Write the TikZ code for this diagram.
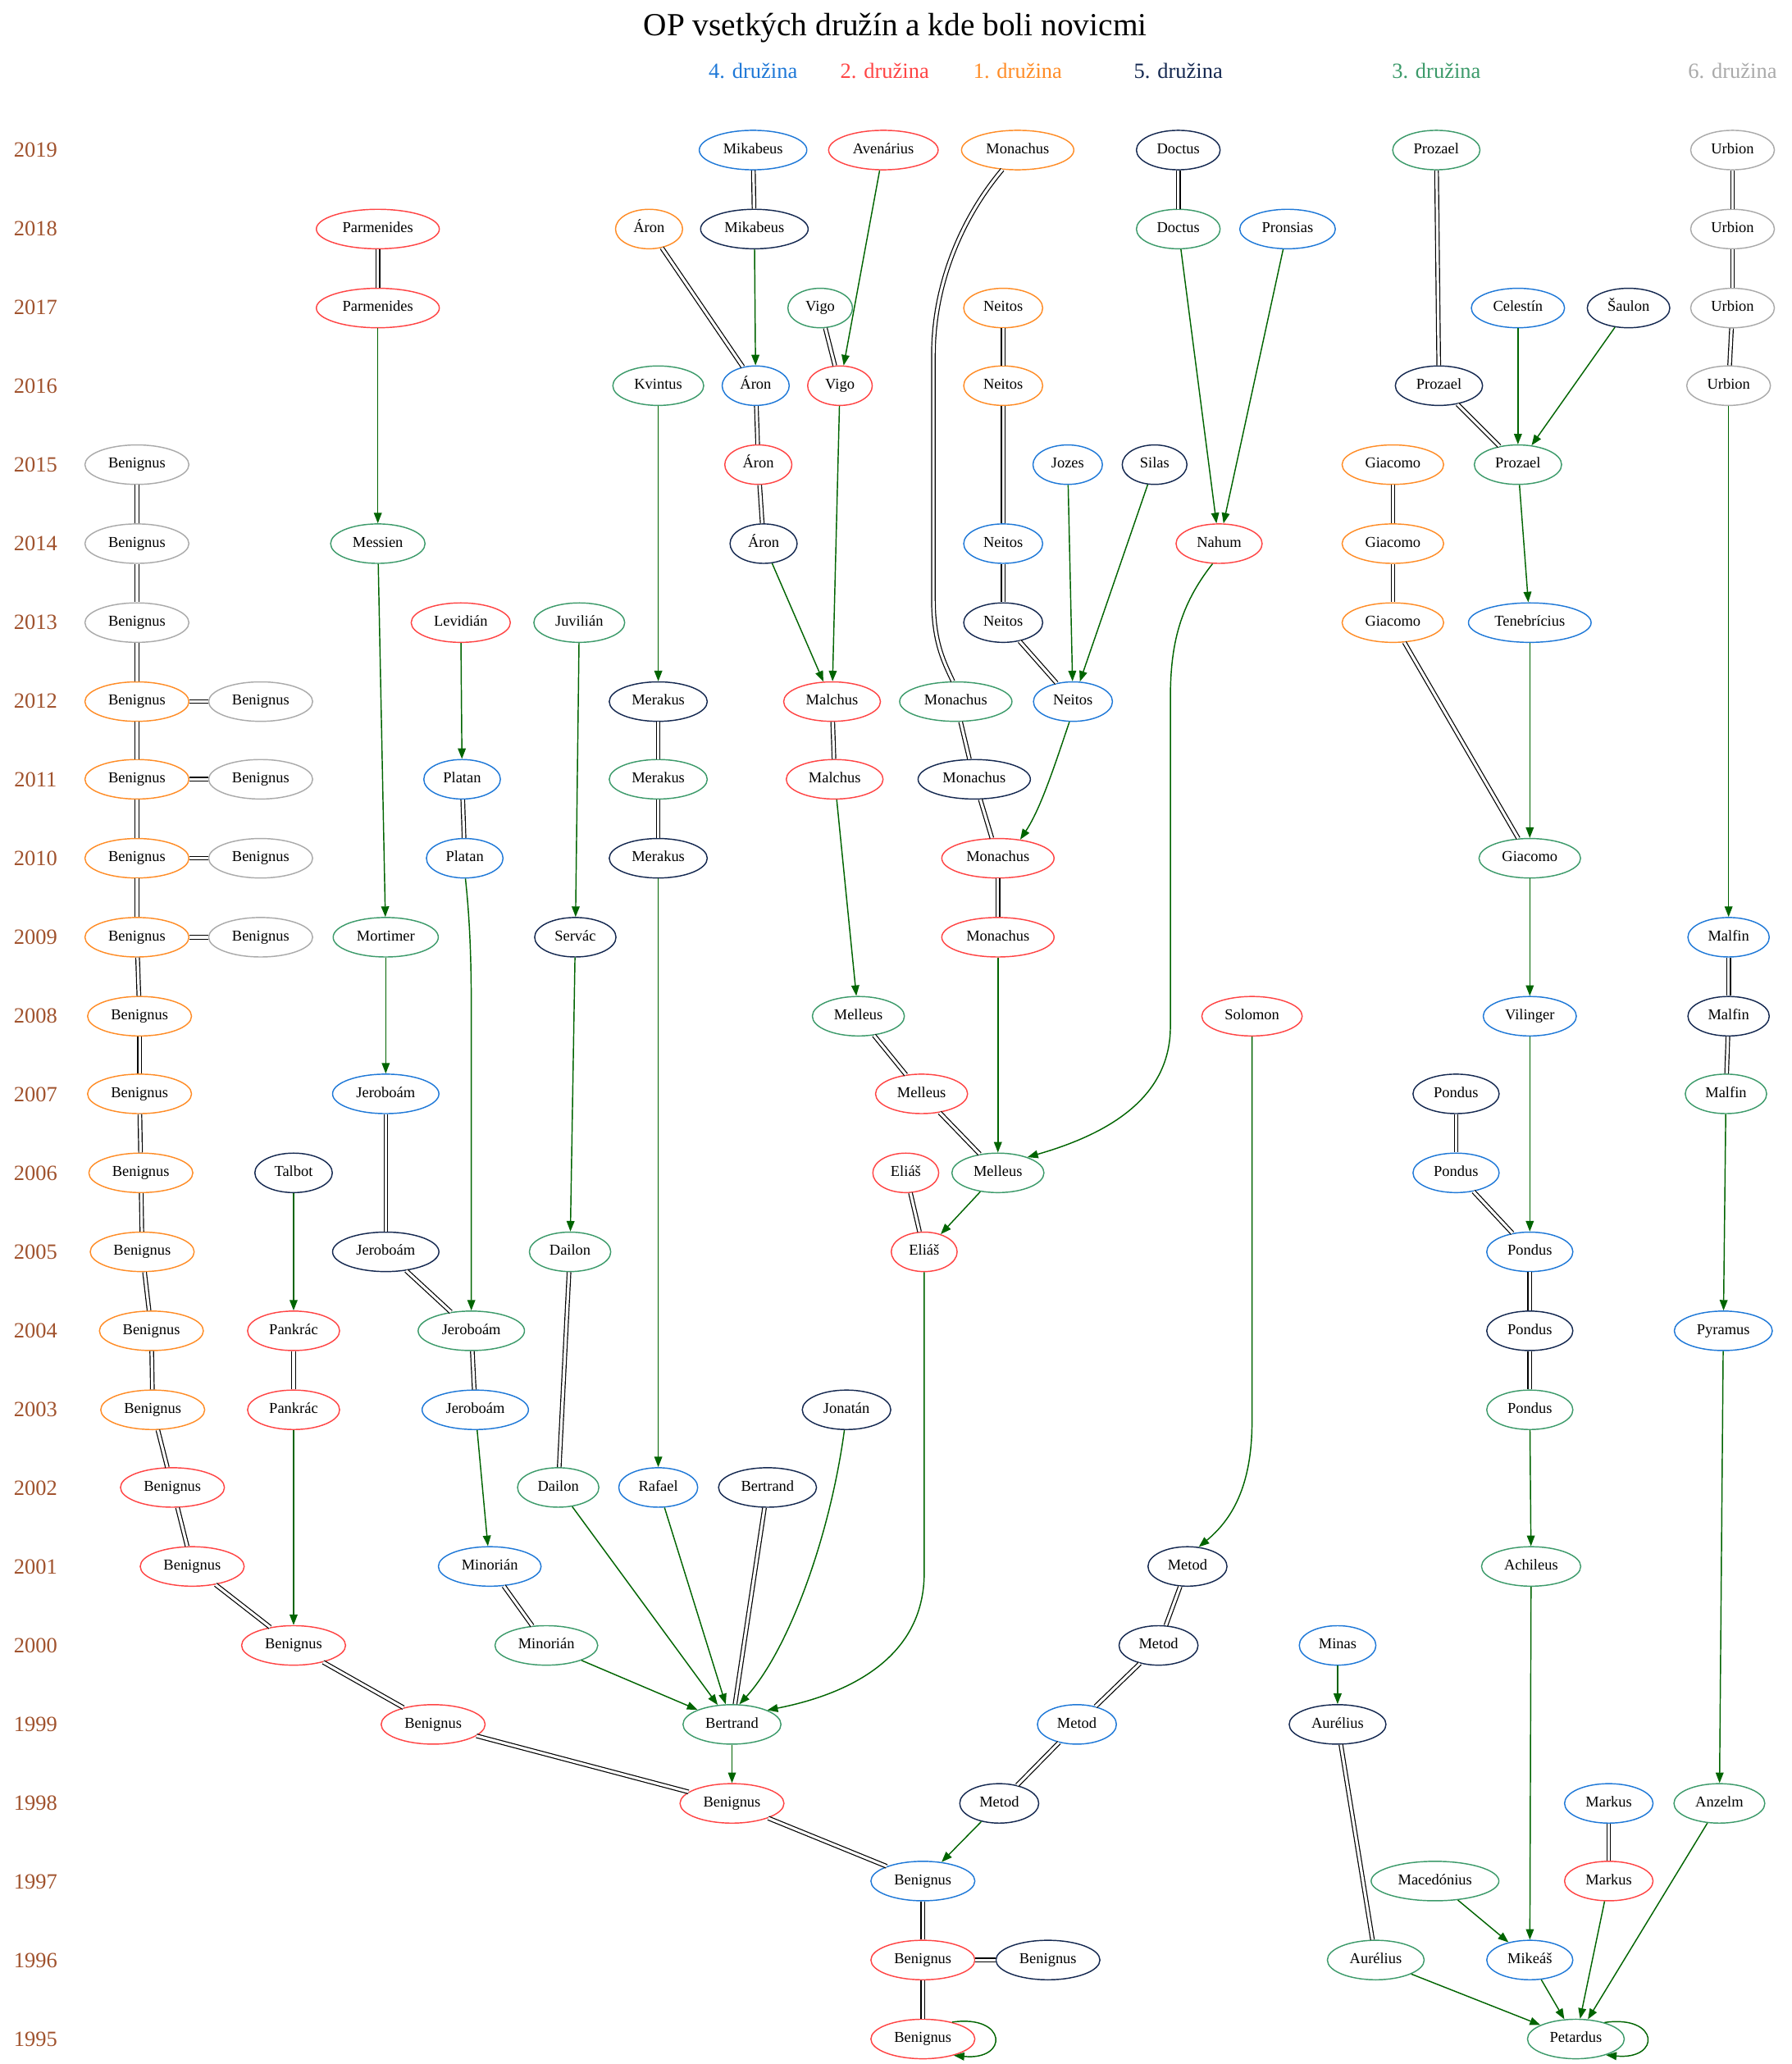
\documentclass[tikz,border=0pt]{standalone}
\usepackage{fontspec}
\setmainfont{Liberation Serif}
\usetikzlibrary{shapes.geometric, arrows.meta}

% colours of the six groups
\definecolor{cone}{RGB}{255,140,38}
\definecolor{ctwo}{RGB}{255,68,68}
\definecolor{cthree}{RGB}{60,154,106}
\definecolor{cfour}{RGB}{30,120,215}
\definecolor{cfive}{RGB}{20,40,80}
\definecolor{csix}{RGB}{170,170,170}
\definecolor{novgreen}{RGB}{0,100,0}
\definecolor{yearcol}{RGB}{160,82,45}

\tikzset{
  person/.style={ellipse, draw, line width=0.9pt,
    font=\fontsize{11.5}{13}\selectfont, text height=8pt, text depth=2.6pt,
    inner xsep=6.2pt, inner ysep=5.3pt},
  gone/.style={person, draw=cone},
  gtwo/.style={person, draw=ctwo},
  gthree/.style={person, draw=cthree},
  gfour/.style={person, draw=cfour},
  gfive/.style={person, draw=cfive},
  gsix/.style={person, draw=csix},
  yearlabel/.style={text=yearcol, font=\fontsize{16.5}{18}\selectfont},
  grouplabel/.style={font=\fontsize{16.5}{18}\selectfont},
  same/.style={draw=black, line width=0.75pt, double=white, double distance=2pt},
  novice/.style={draw=novgreen, line width=0.9pt, -{Triangle[length=8pt,width=6pt]}},
}

\begin{document}
\begin{tikzpicture}[x=1pt, y=-1pt]
\useasboundingbox (0,0) rectangle (1361,1568);

% title and group headers
\node[font=\fontsize{24.5}{28}\selectfont] (title) at (680,21) {OP vsetkých družín a kde boli novicmi};
\node[grouplabel, text=cfour]  (h4) at (572,54)  {4. družina};
\node[grouplabel, text=ctwo]   (h2) at (672,54)  {2. družina};
\node[grouplabel, text=cone]   (h1) at (773,54)  {1. družina};
\node[grouplabel, text=cfive]  (h5) at (895,54)  {5. družina};
\node[grouplabel, text=cthree] (h3) at (1091,54) {3. družina};
\node[grouplabel, text=csix]   (h6) at (1316,54) {6. družina};

% year axis
\foreach \yr [count=\i from 0] in {2019,2018,...,1995}
  \node[yearlabel] (yr\yr) at (27,114+59.79*\i) {\yr};

% 2019
\node[gfour]  (mik19) at (572,114) {Mikabeus};
\node[gtwo]   (ave19) at (671,114) {Avenárius};
\node[gone]   (mon19) at (773,114) {Monachus};
\node[gfive]  (doc19) at (895,114) {Doctus};
\node[gthree] (pro19) at (1091,114) {Prozael};
\node[gsix]   (urb19) at (1316,114) {Urbion};
% 2018
\node[gtwo]   (par18) at (287,174) {Parmenides};
\node[gone]   (aro18) at (493,174) {Áron};
\node[gfive]  (mik18) at (573,174) {Mikabeus};
\node[gthree] (doc18) at (895,174) {Doctus};
\node[gfour]  (prn18) at (978,174) {Pronsias};
\node[gsix]   (urb18) at (1316,174) {Urbion};
% 2017
\node[gtwo]   (par17) at (287,234) {Parmenides};
\node[gthree] (vig17) at (623,234) {Vigo};
\node[gone]   (nei17) at (762,234) {Neitos};
\node[gfour]  (cel17) at (1153,234) {Celestín};
\node[gfive]  (sau17) at (1237,234) {Šaulon};
\node[gsix]   (urb17) at (1316,234) {Urbion};
% 2016
\node[gthree] (kvi16) at (500,293) {Kvintus};
\node[gfour]  (aro16) at (574,293) {Áron};
\node[gtwo]   (vig16) at (638,293) {Vigo};
\node[gone]   (nei16) at (762,293) {Neitos};
\node[gfive]  (pro16) at (1093,293) {Prozael};
\node[gsix]   (urb16) at (1313,293) {Urbion};
% 2015
\node[gsix]   (ben15) at (104,353) {Benignus};
\node[gtwo]   (aro15) at (576,353) {Áron};
\node[gfour]  (joz15) at (811,353) {Jozes};
\node[gfive]  (sil15) at (877,353) {Silas};
\node[gone]   (gia15) at (1058,353) {Giacomo};
\node[gthree] (pro15) at (1153,353) {Prozael};
% 2014
\node[gsix]   (ben14) at (104,413) {Benignus};
\node[gthree] (mes14) at (287,413) {Messien};
\node[gfive]  (aro14) at (580,413) {Áron};
\node[gfour]  (nei14) at (762,413) {Neitos};
\node[gtwo]   (nah14) at (926,413) {Nahum};
\node[gone]   (gia14) at (1058,413) {Giacomo};
% 2013
\node[gsix]   (ben13) at (104,473) {Benignus};
\node[gtwo]   (lev13) at (350,473) {Levidián};
\node[gthree] (juv13) at (440,473) {Juvilián};
\node[gfive]  (nei13) at (762,473) {Neitos};
\node[gone]   (gia13) at (1058,473) {Giacomo};
\node[gfour]  (ten13) at (1162,473) {Tenebrícius};
% 2012
\node[gone]   (ben12) at (104,533) {Benignus};
\node[gsix]   (beg12) at (198,533) {Benignus};
\node[gfive]  (mer12) at (500,533) {Merakus};
\node[gtwo]   (mal12) at (632,533) {Malchus};
\node[gthree] (mon12) at (726,533) {Monachus};
\node[gfour]  (nei12) at (815,533) {Neitos};
% 2011
\node[gone]   (ben11) at (104,592) {Benignus};
\node[gsix]   (beg11) at (198,592) {Benignus};
\node[gfour]  (pla11) at (351,592) {Platan};
\node[gthree] (mer11) at (500,592) {Merakus};
\node[gtwo]   (mal11) at (634,592) {Malchus};
\node[gfive]  (mon11) at (740,592) {Monachus};
% 2010
\node[gone]   (ben10) at (104,652) {Benignus};
\node[gsix]   (beg10) at (198,652) {Benignus};
\node[gfour]  (pla10) at (353,652) {Platan};
\node[gfive]  (mer10) at (500,652) {Merakus};
\node[gtwo]   (mon10) at (758,652) {Monachus};
\node[gthree] (gia10) at (1162,652) {Giacomo};
% 2009
\node[gone]   (ben09) at (104,712) {Benignus};
\node[gsix]   (beg09) at (198,712) {Benignus};
\node[gthree] (mor09) at (293,712) {Mortimer};
\node[gfive]  (ser09) at (437,712) {Servác};
\node[gtwo]   (mon09) at (758,712) {Monachus};
\node[gfour]  (mlf09) at (1313,712) {Malfin};
% 2008
\node[gone]   (ben08) at (106,772) {Benignus};
\node[gthree] (mel08) at (652,772) {Melleus};
\node[gtwo]   (sol08) at (951,772) {Solomon};
\node[gfour]  (vil08) at (1162,772) {Vilinger};
\node[gfive]  (mlf08) at (1313,772) {Malfin};
% 2007
\node[gone]   (ben07) at (106,831) {Benignus};
\node[gfour]  (jer07) at (293,831) {Jeroboám};
\node[gtwo]   (mel07) at (700,831) {Melleus};
\node[gfive]  (pon07) at (1106,831) {Pondus};
\node[gthree] (mlf07) at (1311,831) {Malfin};
% 2006
\node[gone]   (ben06) at (107,891) {Benignus};
\node[gfive]  (tal06) at (223,891) {Talbot};
\node[gtwo]   (eli06) at (688,891) {Eliáš};
\node[gthree] (mel06) at (758,891) {Melleus};
\node[gfour]  (pon06) at (1106,891) {Pondus};
% 2005
\node[gone]   (ben05) at (108,951) {Benignus};
\node[gfive]  (jer05) at (293,951) {Jeroboám};
\node[gthree] (dai05) at (433,951) {Dailon};
\node[gtwo]   (eli05) at (702,951) {Eliáš};
\node[gfour]  (pon05) at (1162,951) {Pondus};
% 2004
\node[gone]   (ben04) at (115,1011) {Benignus};
\node[gtwo]   (pan04) at (223,1011) {Pankrác};
\node[gthree] (jer04) at (358,1011) {Jeroboám};
\node[gfive]  (pon04) at (1162,1011) {Pondus};
\node[gfour]  (pyr04) at (1309,1011) {Pyramus};
% 2003
\node[gone]   (ben03) at (116,1071) {Benignus};
\node[gtwo]   (pan03) at (223,1071) {Pankrác};
\node[gfour]  (jer03) at (361,1071) {Jeroboám};
\node[gfive]  (jon03) at (643,1071) {Jonatán};
\node[gthree] (pon03) at (1162,1071) {Pondus};
% 2002
\node[gtwo]   (ben02) at (131,1130) {Benignus};
\node[gthree] (dai02) at (424,1130) {Dailon};
\node[gfour]  (raf02) at (500,1130) {Rafael};
\node[gfive]  (ber02) at (583,1130) {Bertrand};
% 2001
\node[gtwo]   (ben01) at (146,1190) {Benignus};
\node[gfour]  (min01) at (372,1190) {Minorián};
\node[gfive]  (met01) at (902,1190) {Metod};
\node[gthree] (ach01) at (1163,1190) {Achileus};
% 2000
\node[gtwo]   (ben00) at (223,1250) {Benignus};
\node[gthree] (min00) at (415,1250) {Minorián};
\node[gfive]  (met00) at (880,1250) {Metod};
\node[gfour]  (mns00) at (1016,1250) {Minas};
% 1999
\node[gtwo]   (ben99) at (329,1310) {Benignus};
\node[gthree] (ber99) at (556,1310) {Bertrand};
\node[gfour]  (met99) at (818,1310) {Metod};
\node[gfive]  (aur99) at (1016,1310) {Aurélius};
% 1998
\node[gtwo]   (ben98) at (556,1370) {Benignus};
\node[gfive]  (met98) at (759,1370) {Metod};
\node[gfour]  (mar98) at (1222,1370) {Markus};
\node[gthree] (anz98) at (1306,1370) {Anzelm};
% 1997
\node[gfour]  (ben97) at (701,1429) {Benignus};
\node[gthree] (mac97) at (1090,1429) {Macedónius};
\node[gtwo]   (mar97) at (1222,1429) {Markus};
% 1996
\node[gtwo]   (ben96) at (701,1489) {Benignus};
\node[gfive]  (beg96) at (796,1489) {Benignus};
\node[gthree] (aur96) at (1045,1489) {Aurélius};
\node[gfour]  (mik96) at (1162,1489) {Mikeáš};
% 1995
\node[gtwo]   (ben95) at (701,1549) {Benignus};
\node[gthree] (pet95) at (1197,1549) {Petardus};

% the same person from one year to the next
\foreach \a/\b in {mik19/mik18, doc19/doc18, pro19/pro16,
    urb19/urb18, urb18/urb17, urb17/urb16, par18/par17, aro18/aro16,
    vig17/vig16, nei17/nei16, nei16/nei14, nei14/nei13, nei13/nei12,
    aro16/aro15, aro15/aro14, pro16/pro15,
    ben15/ben14, ben14/ben13, ben13/ben12, ben12/ben11, ben11/ben10,
    ben10/ben09, ben09/ben08, ben08/ben07, ben07/ben06, ben06/ben05,
    ben05/ben04, ben04/ben03, ben03/ben02, ben02/ben01, ben01/ben00,
    ben00/ben99, ben99/ben98, ben98/ben97, ben97/ben96, ben96/ben95,
    ben12/beg12, ben11/beg11, ben10/beg10, ben09/beg09, ben96/beg96,
    gia15/gia14, gia14/gia13, gia13/gia10,
    mer12/mer11, mer11/mer10, mal12/mal11,
    mon12/mon11, mon11/mon10, mon10/mon09,
    mel08/mel07, mel07/mel06, mlf09/mlf08, mlf08/mlf07,
    pon07/pon06, pon06/pon05, pon05/pon04, pon04/pon03,
    jer07/jer05, jer05/jer04, jer04/jer03, eli06/eli05, dai05/dai02,
    pan04/pan03, pla11/pla10, min01/min00, ber02/ber99,
    met01/met00, met00/met99, met99/met98, aur99/aur96, mar98/mar97}
  \draw[same] (\a) -- (\b);
\draw[same] (mon19.-128) .. controls (735,160) and (709,210) .. (709,270)
  -- (709,455) .. controls (709,488) and (717,503) .. (mon12.98);

% novices
\foreach \a/\b in {mik18/aro16, ave19/vig16, doc18/nah14, prn18/nah14,
    cel17/pro15, sau17/pro15, par17/mes14, kvi16/mer12, vig16/mal12,
    urb16/mlf09, joz15/nei12, sil15/nei12, pro15/ten13, aro14/mal12,
    mes14/mor09, lev13/pla11, juv13/ser09, ten13/gia10, mer10/raf02,
    mal11/mel08, gia10/vil08, mor09/jer07, ser09/dai05, mon09/mel06,
    mlf07/pyr04, vil08/pon05, tal06/pan04, mel06/eli05, pon03/ach01,
    pan03/ben00, jer03/min01, dai02/ber99, raf02/ber99, min00/ber99,
    ach01/mik96, pyr04/anz98, mns00/aur99, ber99/ben98, met98/ben97,
    mac97/mik96, mik96/pet95, mar97/pet95, anz98/pet95, aur96/pet95}
  \draw[novice] (\a) -- (\b);
\draw[novice] (nah14.-108) .. controls (896,460) and (889,490) .. (889,530)
  -- (889,780) .. controls (889,835) and (840,862) .. (mel06.28);
\draw[novice] (nei12.-100) .. controls (800,585) and (790,615) .. (mon10.40);
\draw[novice] (pla10.-88) .. controls (357,700) and (358,730) .. (358,770) -- (jer04.north);
\draw[novice] (sol08.south) -- (951,1080) .. controls (951,1130) and (935,1155) .. (met01.60);
\draw[novice] (jon03.-96) .. controls (630,1170) and (598,1255) .. (ber99.70);
\draw[novice] (eli05.south) -- (702,1195) .. controls (702,1262) and (640,1288) .. (ber99.22);
\draw[novice] (ben95.30) .. controls +(42,-6) and +(42,4) .. (ben95.-28);
\draw[novice] (pet95.30) .. controls +(42,-6) and +(42,4) .. (pet95.-28);
\end{tikzpicture}
\end{document}
